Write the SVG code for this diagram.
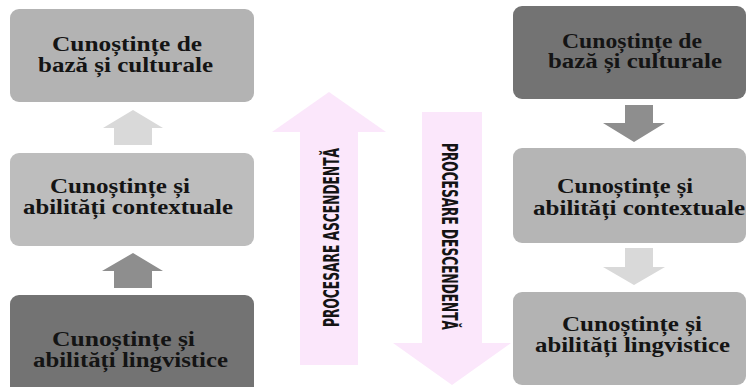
<svg xmlns="http://www.w3.org/2000/svg" width="747" height="387" viewBox="0 0 747 387">
<style>
.t{font-family:"Liberation Serif","Times New Roman",serif;font-weight:bold;font-size:20px;fill:#141414;}
.p{font-family:"DejaVu Sans Condensed","DejaVu Sans",sans-serif;font-weight:bold;font-stretch:condensed;font-size:15px;fill:#141414;}
.pink{fill:#fbe7fb;}
</style>
<rect width="747" height="387" fill="#ffffff"/>
<g id="proc-asc">
<path class="pink" d="M300,365 V132 H272 L329,92 L386,132 H358 V365 Z"/>
<text class="p" transform="translate(339,237.5) rotate(-90) scale(1,1.45)" text-anchor="middle" textLength="179" lengthAdjust="spacingAndGlyphs">PROCESARE ASCENDENTĂ</text>
</g>
<g id="proc-desc">
<path class="pink" d="M422,112 H482 V343 H511 L452,385 L393,343 H422 Z"/>
<text class="p" transform="translate(442,236.5) rotate(90) scale(1,1.45)" text-anchor="middle" textLength="187" lengthAdjust="spacingAndGlyphs">PROCESARE DESCENDENTĂ</text>
</g>
<g id="connectors">
<path fill="#d9d9d9" d="M114,145 V128 H103 L133,110 L163,128 H152 V145 Z"/>
<path fill="#8e8e8e" d="M114,288 V271 H102 L133,253 L163,271 H152 V288 Z"/>
<path fill="#8e8e8e" d="M625,105 H653 V123 H665 L634,142 L603,123 H625 Z"/>
<path fill="#d9d9d9" d="M625,248 H653 V267 H665 L634,285 L603,267 H625 Z"/>
</g>
<g id="left-baza">
<rect x="10" y="9" width="244" height="93" rx="9" fill="#b3b3b3"/>
<text class="t" x="52" y="51" textLength="150" lengthAdjust="spacingAndGlyphs">Cunoștințe de</text>
<text class="t" x="38" y="72" textLength="175" lengthAdjust="spacingAndGlyphs">bază și culturale</text>
</g>
<g id="left-context">
<rect x="10" y="153" width="244" height="93" rx="9" fill="#bdbdbd"/>
<text class="t" x="50" y="193" textLength="140" lengthAdjust="spacingAndGlyphs">Cunoștințe și</text>
<text class="t" x="23" y="214" textLength="210" lengthAdjust="spacingAndGlyphs">abilități contextuale</text>
</g>
<g id="left-lingv">
<rect x="10" y="295" width="244" height="100" rx="9" fill="#737373"/>
<text class="t" x="52" y="346" textLength="143" lengthAdjust="spacingAndGlyphs">Cunoștințe și</text>
<text class="t" x="33" y="367" textLength="195" lengthAdjust="spacingAndGlyphs">abilități lingvistice</text>
</g>
<g id="right-baza">
<rect x="513" y="6" width="233" height="93" rx="9" fill="#737373"/>
<text class="t" x="562" y="48" textLength="140" lengthAdjust="spacingAndGlyphs">Cunoștințe de</text>
<text class="t" x="548" y="68" textLength="174" lengthAdjust="spacingAndGlyphs">bază și culturale</text>
</g>
<g id="right-context">
<rect x="513" y="148" width="233" height="95" rx="9" fill="#b5b5b5"/>
<text class="t" x="557" y="193" textLength="136" lengthAdjust="spacingAndGlyphs">Cunoștințe și</text>
<text class="t" x="533" y="215" textLength="212" lengthAdjust="spacingAndGlyphs">abilități contextuale</text>
</g>
<g id="right-lingv">
<rect x="513" y="292" width="233" height="93" rx="9" fill="#b3b3b3"/>
<text class="t" x="562" y="331" textLength="140" lengthAdjust="spacingAndGlyphs">Cunoștințe și</text>
<text class="t" x="535" y="352" textLength="195" lengthAdjust="spacingAndGlyphs">abilități lingvistice</text>
</g>
</svg>
